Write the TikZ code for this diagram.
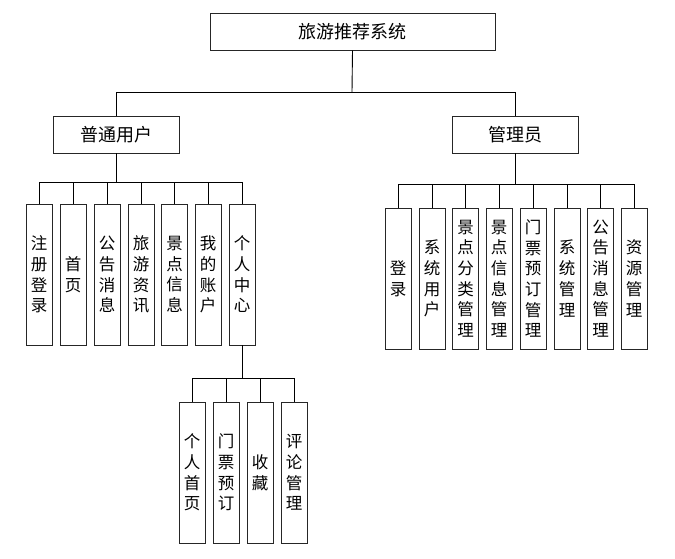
\documentclass[tikz,border=0pt]{standalone}
\usepackage{fontspec}
\setmainfont{Noto Sans CJK SC}
\begin{document}
\begin{tikzpicture}[x=1pt,y=-1pt,
  box/.style={draw=black!85,line width=0.9pt,rectangle,inner sep=0pt},
  topbox/.style={box,minimum width=285pt,minimum height=37pt,font=\fontsize{18}{20}\selectfont},
  midbox/.style={box,minimum width=126pt,minimum height=37pt,font=\fontsize{18}{20}\selectfont},
  leaf/.style={box,minimum width=26pt,minimum height=141pt,align=center,font=\fontsize{16.5}{20.7}\selectfont},
  conn/.style={draw=black,line width=0.9pt}]
\useasboundingbox (0,0) rectangle (675,558);
\node[topbox] (root) at (352.5,31.5) {旅游推荐系统};
\node[midbox] (user) at (116,134.5) {普通用户};
\node[midbox] (admin) at (515,134.5) {管理员};
% left leaves
\node[leaf] (l1) at (39,274.5) {注\\册\\登\\录};
\node[leaf] (l2) at (73,274.5) {首\\页};
\node[leaf] (l3) at (107,274.5) {公\\告\\消\\息};
\node[leaf] (l4) at (141,274.5) {旅\\游\\资\\讯};
\node[leaf] (l5) at (174.5,274.5) {景\\点\\信\\息};
\node[leaf] (l6) at (208,274.5) {我\\的\\账\\户};
\node[leaf] (l7) at (242,274.5) {个\\人\\中\\心};
% sub leaves
\node[leaf] (s1) at (192,472.5) {个\\人\\首\\页};
\node[leaf] (s2) at (226,472.5) {门\\票\\预\\订};
\node[leaf] (s3) at (260,472.5) {收\\藏};
\node[leaf] (s4) at (294,472.5) {评\\论\\管\\理};
% right leaves
\node[leaf] (r1) at (398,278.5) {登\\录};
\node[leaf] (r2) at (432,278.5) {系\\统\\用\\户};
\node[leaf] (r3) at (465.5,278.5) {景\\点\\分\\类\\管\\理};
\node[leaf] (r4) at (499,278.5) {景\\点\\信\\息\\管\\理};
\node[leaf] (r5) at (533,278.5) {门\\票\\预\\订\\管\\理};
\node[leaf] (r6) at (567,278.5) {系\\统\\管\\理};
\node[leaf] (r7) at (600.5,278.5) {公\\告\\消\\息\\管\\理};
\node[leaf] (r8) at (634,278.5) {资\\源\\管\\理};
% buses
\coordinate (b1) at (352,92);
\coordinate (b2) at (116,182);
\coordinate (b3) at (515,184);
\coordinate (b4) at (242,378);
\draw[conn] (root.south) -- (b1);
\draw[conn] (user.north) -- (user.north |- b1) -- (admin.north |- b1) -- (admin.north);
\draw[conn] (user.south) -- (b2);
\draw[conn] (l1.north) -- (l1.north |- b2) -- (l7.north |- b2) -- (l7.north);
\foreach \n in {l2,l3,l4,l5,l6} \draw[conn] (\n.north) -- (\n.north |- b2);
\draw[conn] (admin.south) -- (b3);
\draw[conn] (r1.north) -- (r1.north |- b3) -- (r8.north |- b3) -- (r8.north);
\foreach \n in {r2,r3,r4,r5,r6,r7} \draw[conn] (\n.north) -- (\n.north |- b3);
\draw[conn] (l7.south) -- (b4);
\draw[conn] (s1.north) -- (s1.north |- b4) -- (s4.north |- b4) -- (s4.north);
\foreach \n in {s2,s3} \draw[conn] (\n.north) -- (\n.north |- b4);
\end{tikzpicture}
\end{document}
